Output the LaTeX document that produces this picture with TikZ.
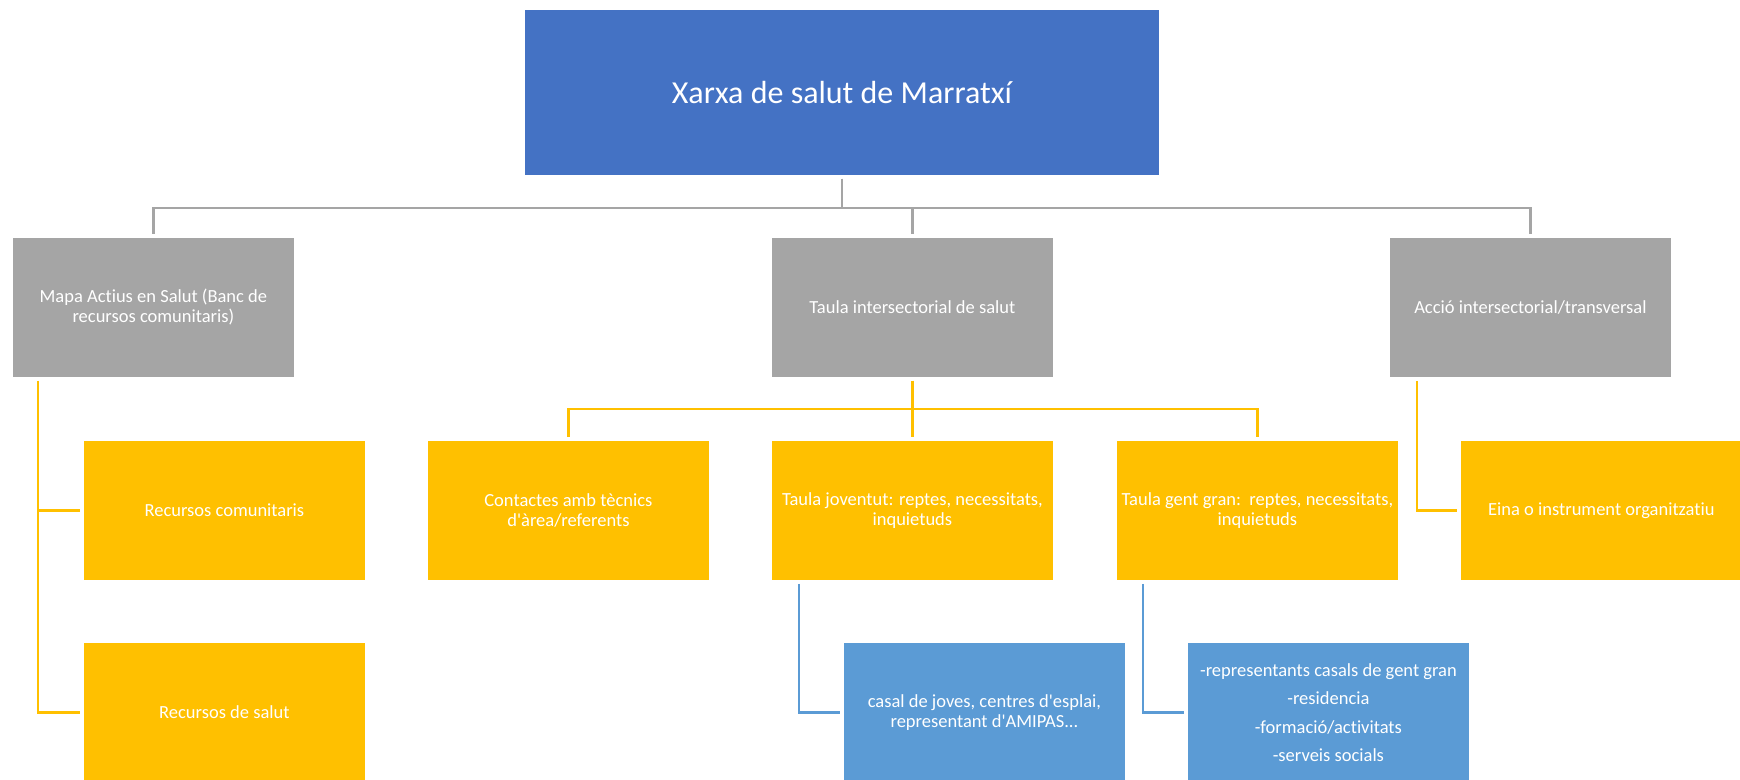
\documentclass[tikz,border=0pt]{standalone}
\usepackage{fontspec}
\setmainfont{Carlito}[Ligatures={NoCommon}]
\definecolor{topblue}{HTML}{4472C4}
\definecolor{boxgray}{HTML}{A5A5A5}
\definecolor{boxyellow}{HTML}{FFC000}
\definecolor{boxblue}{HTML}{5B9BD5}
\newcommand{\apo}{\textquotesingle}
\tikzset{
  box/.style={rectangle, draw=white, line width=0.8pt, anchor=north west, inner sep=0pt,
    minimum width=282pt, minimum height=140pt, text=white, align=center,
    font=\fontsize{18.5}{20}\selectfont},
  graybox/.style={box, fill=boxgray},
  yellowbox/.style={box, fill=boxyellow},
  bluebox/.style={box, fill=boxblue},
  conn/.style={line width=2.6pt, shorten <=3pt, shorten >=3pt},
  gline/.style={conn, draw=boxgray},
  yline/.style={conn, draw=boxyellow},
  bline/.style={conn, draw=boxblue},
}
\begin{document}
\begin{tikzpicture}[x=1pt,y=-1pt]
\useasboundingbox[fill=white] (0,0) rectangle (1740,779);
% top
\node[box, fill=topblue, minimum width=635pt, minimum height=166pt,
  font=\fontsize{32}{38}\selectfont] (top) at (524,9) {Xarxa de salut de Marratxí};
% level 1
\node[graybox] (mapa) at (12,237) {Mapa Actius en Salut (Banc de\\recursos comunitaris)};
\node[graybox] (taula) at (771,237) {Taula intersectorial de salut};
\node[graybox] (accio) at (1389,237) {Acció intersectorial/transversal};
% level 2
\node[yellowbox] (rc) at (83,440) {Recursos comunitaris};
\node[yellowbox] (rs) at (83,642) {Recursos de salut};
\node[yellowbox] (cont) at (427,440) {Contactes amb tècnics\\d\apo àrea/referents};
\node[yellowbox] (tj) at (771,440) {Taula joventut: reptes, necessitats,\\inquietuds};
\node[yellowbox] (tg) at (1116,440) {Taula gent gran:\ \ reptes, necessitats,\\inquietuds};
\node[yellowbox] (eina) at (1460,440) {Eina o instrument organitzatiu};
% level 3
\node[bluebox] (cj) at (843,642) {casal de joves, centres d\apo esplai,\\representant d\apo AMIPAS...};
\node[bluebox] (rep) at (1187,642) {-representants casals de gent gran\\[8.5pt]-residencia\\[8.5pt]-formació/activitats\\[8.5pt]-serveis socials};
% connectors level 1
\draw[gline] (top.south) -- ++(0,32) -| (mapa.north);
\draw[gline] (top.south) -- ++(0,32) -| (taula.north);
\draw[gline] (top.south) -- ++(0,32) -| (accio.north);
% connectors level 2
\draw[yline] ([xshift=26pt]mapa.south west) |- (rc.west);
\draw[yline] ([xshift=26pt]mapa.south west) |- (rs.west);
\draw[yline] (taula.south) -- ++(0,31) -| (cont.north);
\draw[yline] (taula.south) -- ++(0,31) -| (tj.north);
\draw[yline] (taula.south) -- ++(0,31) -| (tg.north);
\draw[yline] ([xshift=28pt]accio.south west) |- (eina.west);
% connectors level 3
\draw[bline] ([xshift=28pt]tj.south west) |- (cj.west);
\draw[bline] ([xshift=27pt]tg.south west) |- (rep.west);
\end{tikzpicture}
\end{document}
